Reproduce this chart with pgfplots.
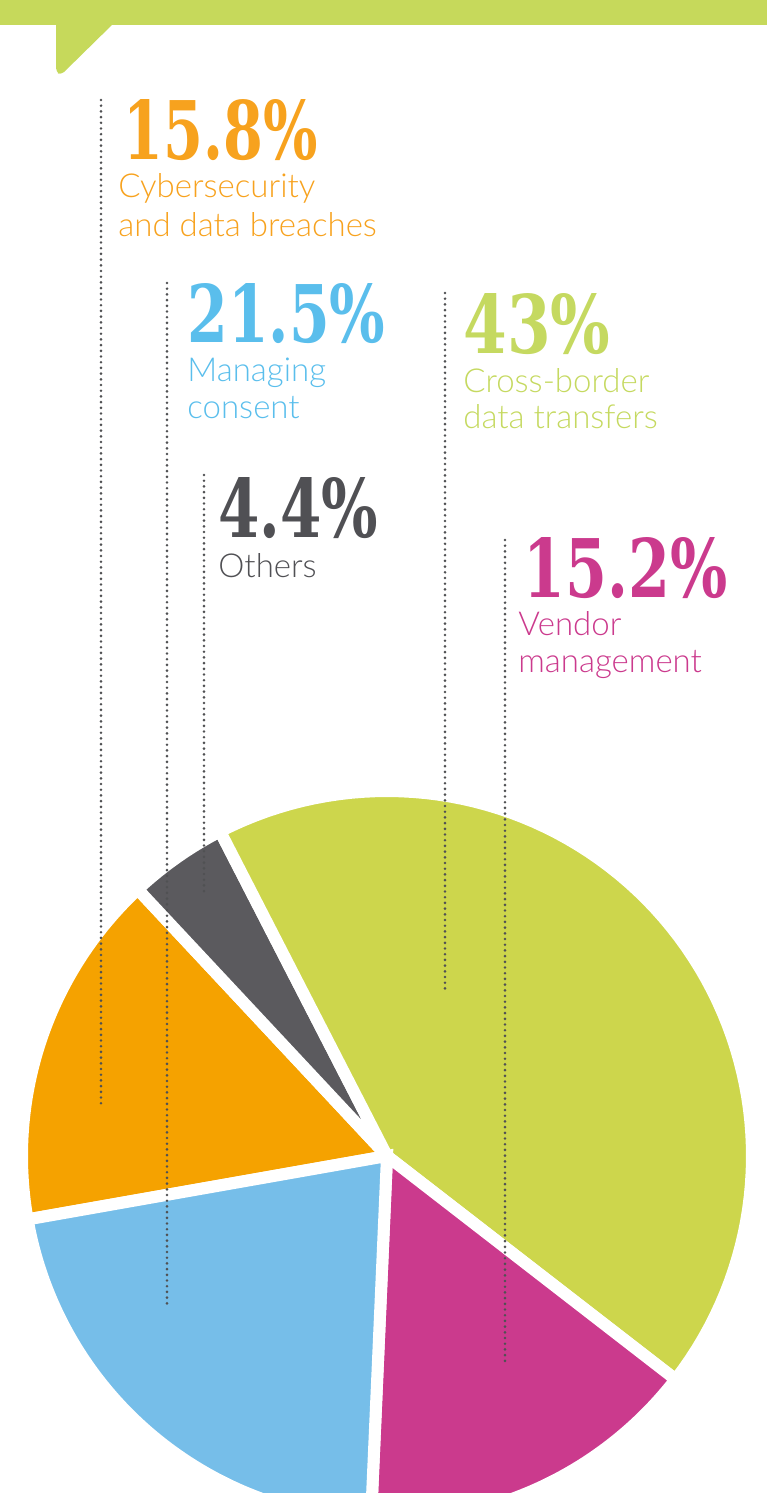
\documentclass[border=0pt]{standalone}
\usepackage{pgfplots}
\pgfplotsset{compat=1.18}
\usepackage{fontspec}
\setmainfont{Lato}
\newfontfamily\lab{Lato Light}
\newfontfamily\numf{DejaVu Serif}
\definecolor{band}{HTML}{C6D95B}
\definecolor{pgreen}{HTML}{CDD64C}
\definecolor{porange}{HTML}{F5A200}
\definecolor{torange}{HTML}{F7A21E}
\definecolor{pblue}{HTML}{76BEE9}
\definecolor{tblue}{HTML}{5ABEEC}
\definecolor{pmag}{HTML}{CB3A8D}
\definecolor{pgray}{HTML}{5B5A5E}
\definecolor{tgray}{HTML}{505054}
\definecolor{tgreen}{HTML}{C5D960}
\definecolor{dots}{HTML}{505153}
% slice values (percent), clockwise from the orange slice
\def\vOrange{15.8}
\def\vOthers{4.4}
\def\vGreen{43}
\def\vMag{15.2}
\def\vBlue{21.5}
\pgfmathsetmacro\vSum{\vOrange+\vOthers+\vGreen+\vMag+\vBlue}
\pgfmathsetmacro\aA{190}
\pgfmathsetmacro\aB{\aA-\vOrange/\vSum*360}
\pgfmathsetmacro\aC{\aB-\vOthers/\vSum*360}
\pgfmathsetmacro\aD{\aC-\vGreen/\vSum*360}
\pgfmathsetmacro\aE{\aD-\vMag/\vSum*360}
\pgfmathsetmacro\aF{\aE-\vBlue/\vSum*360}
\def\cx{387}\def\cy{1156}\def\R{365}
\newcommand\slice[3]{%
  \fill[#3, draw=white, line width=6pt] (axis cs:\cx,\cy) -- plot[domain=#1:#2, samples=80, variable=\t] (axis cs:{\cx+\R*cos(\t)},{\cy-\R*sin(\t)}) -- cycle;}
\newcommand\lbl[4]{\node[anchor=base west, inner sep=0pt, text=#3, font=\lab\fontsize{16.5pt}{19pt}\selectfont] at (axis cs:#1,#2) {#4};}
\newcommand\num[6]{\node[anchor=base west, inner sep=0pt, text=#5] at (axis cs:#1,#2) {\resizebox{#3pt}{#4pt}{\numf\bfseries #6}};}
\begin{document}
\begin{tikzpicture}
\begin{axis}[width=383.5pt, height=746.5pt, scale only axis,
  xmin=0, xmax=767, ymin=0, ymax=1493, y dir=reverse, hide axis, clip=true]
% top band
\fill[band] (axis cs:0,0) rectangle (axis cs:767,25);
\fill[band, rounded corners=2pt] (axis cs:56,20) -- (axis cs:56,72) -- (axis cs:61,75) -- (axis cs:115,22) -- cycle;
% pie
\slice{\aA}{\aB}{porange}
\slice{\aB}{\aC}{pgray}
\slice{\aC}{\aD}{pgreen}
\slice{\aD}{\aE}{pmag}
\slice{\aE}{\aF}{pblue}
% leader lines
\begin{scope}[dots, line width=1.45pt, line cap=round, dash pattern=on 0pt off 2.85pt]
\draw (axis cs:101,100) -- (axis cs:101,1107);
\draw (axis cs:167,283) -- (axis cs:167,1307);
\draw (axis cs:204,475) -- (axis cs:204,893);
\draw (axis cs:445,293) -- (axis cs:445,992);
\draw (axis cs:505,540) -- (axis cs:505,1365);
\end{scope}
% labels
\num{123}{160}{97}{30}{torange}{15.8\%}
\lbl{118}{197}{torange}{Cybersecurity}
\lbl{118}{236}{torange}{and data breaches}
\num{187}{342}{99}{29.5}{tblue}{21.5\%}
\lbl{187}{381}{tblue}{Managing}
\lbl{187}{418}{tblue}{consent}
\num{463}{353}{73.5}{30}{tgreen}{43\%}
\lbl{463}{392}{tgreen}{Cross-border}
\lbl{463}{428}{tgreen}{data transfers}
\num{218}{537}{80}{30}{tgray}{4.4\%}
\lbl{218}{577}{tgray}{Others}
\num{523}{597}{102}{30}{pmag}{15.2\%}
\lbl{518}{635}{pmag}{Vendor}
\lbl{518}{672}{pmag}{management}
\end{axis}
\end{tikzpicture}
\end{document}
